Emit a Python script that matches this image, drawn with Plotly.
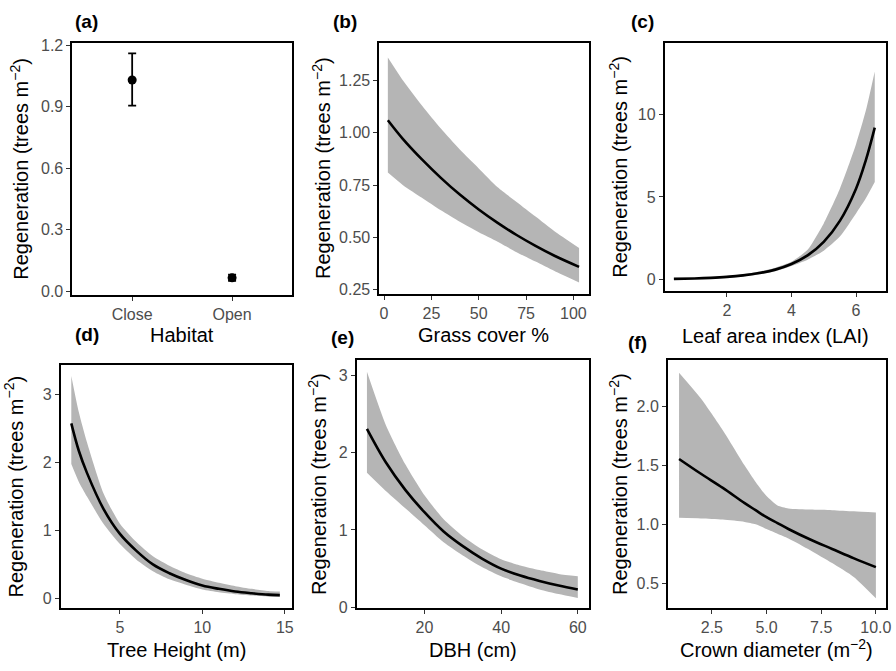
import plotly.graph_objects as go

W, H = 896, 671

# ---- data ----
habitat = ["Close", "Open"]
habitat_mean = [1.03, 0.065]
habitat_lo = [0.905, 0.05]
habitat_hi = [1.16, 0.08]

grass_x = [2, 10, 20, 30, 40, 50, 60, 70, 80, 90, 103]
grass_fit = [1.06, 0.97, 0.873, 0.785, 0.705, 0.634, 0.57, 0.512, 0.46, 0.413, 0.36]
grass_lo = [0.81, 0.75, 0.69, 0.63, 0.575, 0.525, 0.48, 0.43, 0.385, 0.34, 0.285]
grass_hi = [1.36, 1.25, 1.13, 1.02, 0.92, 0.83, 0.74, 0.67, 0.6, 0.53, 0.45]

lai_x = [0.36, 1, 1.5, 2, 2.5, 3, 3.5, 4, 4.5, 5, 5.5, 6, 6.3, 6.58]
lai_fit = [0.038, 0.066, 0.103, 0.16, 0.25, 0.39, 0.6, 0.94, 1.46, 2.28, 3.55, 5.5, 7.2, 9.2]
lai_lo = [0.02, 0.04, 0.07, 0.11, 0.19, 0.31, 0.5, 0.82, 1.2, 1.75, 2.6, 4.0, 4.9, 5.9]
lai_hi = [0.06, 0.1, 0.15, 0.22, 0.32, 0.48, 0.72, 1.08, 1.8, 3.4, 5.5, 8.2, 10.2, 12.6]

height_x = [2.05, 2.5, 3, 4, 5, 6, 7, 8, 9, 10, 11, 12, 13, 14, 14.7]
height_fit = [2.58, 2.18, 1.85, 1.32, 0.95, 0.70, 0.50, 0.37, 0.27, 0.19, 0.14, 0.10, 0.075, 0.055, 0.048]
height_lo = [1.98, 1.72, 1.5, 1.1, 0.8, 0.57, 0.4, 0.28, 0.2, 0.13, 0.09, 0.06, 0.04, 0.025, 0.02]
height_hi = [3.28, 2.75, 2.3, 1.55, 1.1, 0.83, 0.62, 0.48, 0.37, 0.29, 0.23, 0.18, 0.14, 0.11, 0.1]

dbh_x = [5, 10, 15, 20, 25, 30, 35, 40, 45, 50, 55, 60]
dbh_fit = [2.31, 1.87, 1.52, 1.23, 0.98, 0.79, 0.63, 0.5, 0.41, 0.34, 0.28, 0.23]
dbh_lo = [1.74, 1.5, 1.28, 1.06, 0.84, 0.67, 0.52, 0.4, 0.31, 0.23, 0.17, 0.12]
dbh_hi = [3.05, 2.35, 1.85, 1.45, 1.14, 0.92, 0.75, 0.62, 0.54, 0.48, 0.43, 0.40]

crown_x = [1, 2, 3, 4, 4.5, 5, 5.5, 6, 7, 8, 9, 10]
crown_fit = [1.556, 1.43, 1.31, 1.18, 1.12, 1.06, 1.01, 0.96, 0.87, 0.79, 0.71, 0.635]
crown_lo = [1.055, 1.05, 1.04, 1.02, 1.0, 0.96, 0.92, 0.88, 0.78, 0.67, 0.55, 0.37]
crown_hi = [2.29, 2.07, 1.8, 1.5, 1.36, 1.24, 1.16, 1.135, 1.125, 1.12, 1.11, 1.10]

ytitle = "Regeneration (trees m<sup>\u22122</sup>)"

FONT = "Liberation Sans, Arial, sans-serif"
BAND = "#b5b5b5"

# panel pixel boxes: (left, right, top, bottom)
boxes = [
    (72.7, 294.0, 37.7, 295.0),
    (381.7, 592.7, 37.3, 294.0),
    (669.0, 891.7, 37.7, 291.0),
    (61.0, 294.0, 366.7, 615.0),
    (359.0, 592.7, 361.7, 615.0),
    (672.3, 891.7, 361.7, 615.0),
]

fig = go.Figure()

def ax_names(i):
    return ("x" if i == 0 else f"x{i+1}", "y" if i == 0 else f"y{i+1}")

def add_band(i, x, lo, hi, fit):
    xa, ya = ax_names(i)
    fig.add_trace(go.Scatter(x=x, y=lo, mode="lines",
                             line=dict(width=0, color=BAND, shape="spline", smoothing=0.6),
                             xaxis=xa, yaxis=ya, showlegend=False, hoverinfo="skip"))
    fig.add_trace(go.Scatter(x=x, y=hi, mode="lines",
                             line=dict(width=0, color=BAND, shape="spline", smoothing=0.6),
                             fill="tonexty", fillcolor=BAND,
                             xaxis=xa, yaxis=ya, showlegend=False, hoverinfo="skip"))
    fig.add_trace(go.Scatter(x=x, y=fit, mode="lines", line=dict(width=2.6, color="black", shape="spline"),
                             xaxis=xa, yaxis=ya, showlegend=False))

# (a)
fig.add_trace(go.Scatter(
    x=[1, 2], y=habitat_mean, mode="markers",
    marker=dict(size=9, color="black"),
    error_y=dict(type="data", symmetric=False,
                 array=[h - m for h, m in zip(habitat_hi, habitat_mean)],
                 arrayminus=[m - l for m, l in zip(habitat_mean, habitat_lo)],
                 color="black", thickness=1.8, width=4),
    xaxis="x", yaxis="y", showlegend=False))

add_band(1, grass_x, grass_lo, grass_hi, grass_fit)
add_band(2, lai_x, lai_lo, lai_hi, lai_fit)
add_band(3, height_x, height_lo, height_hi, height_fit)
add_band(4, dbh_x, dbh_lo, dbh_hi, dbh_fit)
add_band(5, crown_x, crown_lo, crown_hi, crown_fit)

xranges = [[0.4, 2.6], [-2.6, 108.1], [0.07, 6.92], [1.4, 15.44], [2.3, 62.85], [0.485, 10.45]]
yranges = [[-0.018, 1.211], [0.231, 1.431], [-0.69, 14.33], [-0.145, 3.44], [-0.013, 3.2], [0.286, 2.397]]
xticks = [
    dict(tickvals=[1, 2], ticktext=habitat),
    dict(tickvals=[0, 25, 50, 75, 100]),
    dict(tickvals=[2, 4, 6]),
    dict(tickvals=[5, 10, 15]),
    dict(tickvals=[20, 40, 60]),
    dict(tickvals=[2.5, 5.0, 7.5, 10.0], ticktext=["2.5", "5.0", "7.5", "10.0"]),
]
yticks = [
    dict(tickvals=[0, 0.3, 0.6, 0.9, 1.2], ticktext=["0.0", "0.3", "0.6", "0.9", "1.2"]),
    dict(tickvals=[0.25, 0.5, 0.75, 1.0, 1.25], ticktext=["0.25", "0.50", "0.75", "1.00", "1.25"]),
    dict(tickvals=[0, 5, 10]),
    dict(tickvals=[0, 1, 2, 3]),
    dict(tickvals=[0, 1, 2, 3]),
    dict(tickvals=[0.5, 1.0, 1.5, 2.0], ticktext=["0.5", "1.0", "1.5", "2.0"]),
]

common = dict(showline=True, linecolor="black", linewidth=1.5, mirror=True,
              ticks="outside", ticklen=4, tickwidth=1.2, tickcolor="#333333",
              showgrid=False, zeroline=False,
              tickfont=dict(family=FONT, size=16, color="#4d4d4d"))

layout = {}
for i, (l, r, t, b) in enumerate(boxes):
    xk = "xaxis" if i == 0 else f"xaxis{i+1}"
    yk = "yaxis" if i == 0 else f"yaxis{i+1}"
    xa, ya = ax_names(i)
    layout[xk] = dict(domain=[l / W, r / W], range=xranges[i], anchor=ya, **xticks[i], **common)
    layout[yk] = dict(domain=[1 - b / H, 1 - t / H], range=yranges[i], anchor=xa, **yticks[i], **common)

annotations = []
# y titles
ytitle_x = [20, 323, 623, 14, 319, 622]
for i, (l, r, t, b) in enumerate(boxes):
    annotations.append(dict(text=ytitle, x=ytitle_x[i] / W, y=1 - ((t + b) / 2) / H,
                            xref="paper", yref="paper", showarrow=False, textangle=-90,
                            xanchor="center", yanchor="middle",
                            font=dict(family=FONT, size=20, color="black")))
# x titles
xtitles = ["Habitat", "Grass cover %", "Leaf area index (LAI)", "Tree Height (m)", "DBH (cm)",
           "Crown diameter (m<sup>\u22122</sup>)"]
xtitle_y = [336, 336, 337, 658, 658, 656]
for i, (l, r, t, b) in enumerate(boxes):
    annotations.append(dict(text=xtitles[i], x=((l + r) / 2) / W, y=1 - xtitle_y[i] / H,
                            xref="paper", yref="paper", showarrow=False,
                            xanchor="center", yanchor="middle",
                            font=dict(family=FONT, size=20, color="black")))
# panel tags
tags = ["(a)", "(b)", "(c)", "(d)", "(e)", "(f)"]
tag_pos = [(73, 16), (333, 16), (633, 16), (73, 336), (331, 339), (630, 344)]
for tg, (px, py) in zip(tags, tag_pos):
    annotations.append(dict(text="<b>" + tg + "</b>", x=px / W, y=1 - py / H,
                            xref="paper", yref="paper", showarrow=False,
                            xanchor="left", yanchor="middle",
                            font=dict(family=FONT, size=19, color="black")))

fig.update_layout(width=W, height=H, margin=dict(l=0, r=0, t=0, b=0),
                  paper_bgcolor="white", plot_bgcolor="white",
                  annotations=annotations, **layout)

fig.write_html("out.html", config={"displayModeBar": False},
               post_script="document.body.style.margin='0';document.body.style.overflow='hidden';")
